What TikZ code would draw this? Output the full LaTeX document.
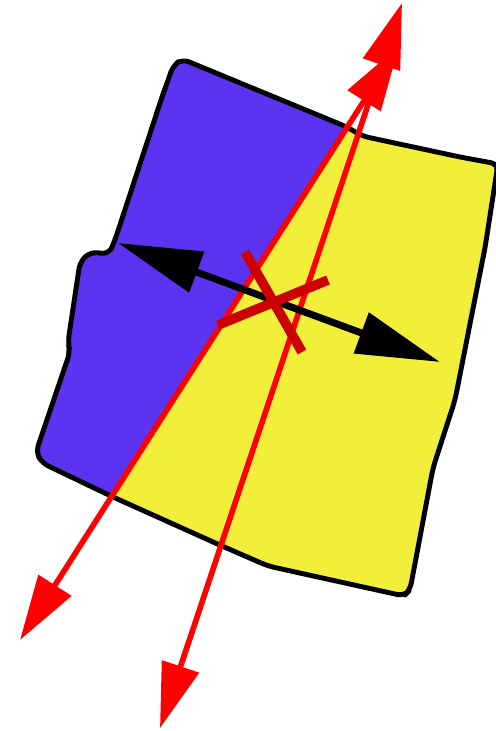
\documentclass[tikz,border=0pt]{standalone}
\usepackage{xcolor}
\usepackage{tikz}
\usetikzlibrary{arrows.meta}

\definecolor{leftblue}{HTML}{5B33F0}
\definecolor{rightyellow}{HTML}{F2EF3A}
\definecolor{crossred}{HTML}{CC0000}

\def\sheetpath{(182,59) -- (347,127) -- (362,136) -- (460,157) -- (498,164) -- (485,248) -- (481,268) -- (455,400) -- (433,468) -- (410,590) -- (404,596) -- (268,566) -- (222,546) -- (113,497) -- (42,463) -- (36,452) -- (70,352) -- (68,342) -- (80,262) -- (90,252) -- (109,254) -- (115,240) -- (163,94) -- (166,86) -- (173,66) -- cycle}

\begin{document}
\begin{tikzpicture}[x=0.02cm, y=-0.02cm]
\tikzstyle{outline} = [draw=black, line width=2.8pt, line join=round, rounded corners=4pt]
\tikzstyle{ray} = [draw=red, line width=3.2pt, {Triangle[length=1.3cm,width=0.76cm]}-{Triangle[length=1.3cm,width=0.76cm]}]
\tikzstyle{swing} = [draw=black, line width=4pt, {Triangle[length=1.68cm,width=0.84cm]}-{Triangle[length=1.68cm,width=0.84cm]}]
\tikzstyle{cross} = [draw=crossred, line width=5.5pt]

\useasboundingbox (0,0) rectangle (495,731);

% the sheet, yellow with blue left part
\fill[rightyellow, rounded corners=4pt] \sheetpath;
\begin{scope}
\clip (435,-10) -- (-48,750) -- (-100,750) -- (-100,-10) -- cycle;
\fill[leftblue, rounded corners=4pt] \sheetpath;
\end{scope}
\draw[outline] \sheetpath;

% end points
\coordinate (raya-low) at (20,640);
\coordinate (raya-high) at (399,46);
\coordinate (rayb-low) at (160,728);
\coordinate (rayb-high) at (402,3);
\coordinate (swing-left) at (118,243);
\coordinate (swing-right) at (440,362);
\coordinate (crossa-top) at (245,252);
\coordinate (crossa-bottom) at (302,352);
\coordinate (crossb-left) at (218,325);
\coordinate (crossb-right) at (328,280);

\draw [ray] (raya-low) -- (raya-high);
\draw [ray] (rayb-low) -- (rayb-high);
\draw [swing] (swing-left) -- (swing-right);
\draw [cross] (crossa-top) -- (crossa-bottom);
\draw [cross] (crossb-left) -- (crossb-right);
\end{tikzpicture}
\end{document}
